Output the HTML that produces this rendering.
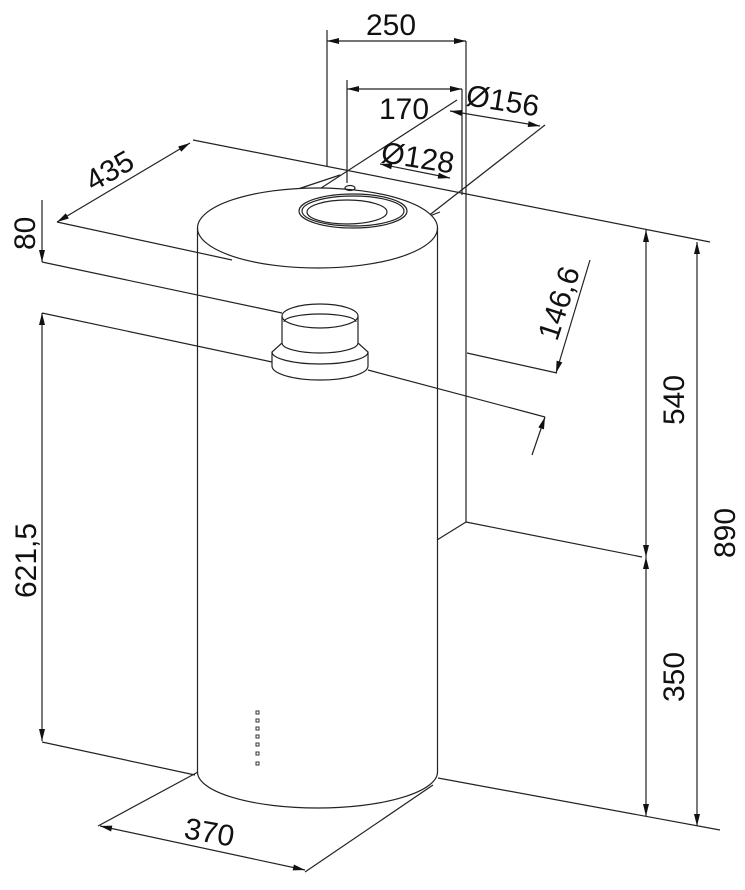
<!DOCTYPE html>
<html><head><meta charset="utf-8"><style>
html,body{margin:0;padding:0;background:#fff;width:745px;height:890px;overflow:hidden}
svg{display:block}
text{font-family:"Liberation Sans",Arial,sans-serif;font-size:30px;fill:#111}
</style></head><body>
<svg width="745" height="890" viewBox="0 0 745 890" xmlns="http://www.w3.org/2000/svg">
<defs>
<marker id="a" viewBox="0 0 12 6" refX="12" refY="3" markerWidth="13" markerHeight="6" orient="auto-start-reverse" markerUnits="userSpaceOnUse">
<path d="M0,0 L12,3 L0,6 z" fill="#111"/></marker>
</defs>
<g stroke="#222" stroke-width="1.2" fill="none">
<line x1="193" y1="140" x2="710" y2="242"/>
<line x1="466" y1="41" x2="466" y2="522"/>
<line x1="462" y1="89" x2="462" y2="195"/>
<line x1="466" y1="522" x2="642" y2="557"/>
<line x1="466" y1="522" x2="437" y2="540"/>
<line x1="327" y1="30" x2="327" y2="166"/>
<line x1="347" y1="80" x2="347" y2="183"/>
<line x1="327" y1="41" x2="466" y2="41" marker-start="url(#a)" marker-end="url(#a)"/>
<line x1="347" y1="89" x2="462" y2="89" marker-start="url(#a)" marker-end="url(#a)"/>
<line x1="295" y1="190" x2="340" y2="175"/>
<line x1="298" y1="203" x2="457" y2="100"/>
<line x1="427" y1="217" x2="545" y2="125"/>
<line x1="427" y1="217" x2="440" y2="212"/>
<line x1="450" y1="111" x2="540" y2="126" marker-start="url(#a)" marker-end="url(#a)"/>
<line x1="380" y1="164" x2="450" y2="178" marker-start="url(#a)" marker-end="url(#a)"/>
<line x1="57" y1="222" x2="190" y2="143" marker-start="url(#a)" marker-end="url(#a)"/>
<line x1="57" y1="222" x2="232" y2="260"/>
<ellipse cx="317.5" cy="228" rx="120" ry="40" fill="#fff"/>
<line x1="197.5" y1="228" x2="197.5" y2="772"/>
<line x1="437.5" y1="228" x2="437.5" y2="772"/>
<path d="M197.5,772 A120,36 0 0 0 437.5,772"/>
<ellipse cx="353" cy="211" rx="54" ry="17" fill="#fff"/>
<ellipse cx="353" cy="211" rx="51" ry="15"/>
<ellipse cx="347" cy="212" rx="40" ry="12"/>
<ellipse cx="350" cy="188" rx="5" ry="2.5"/>
<line x1="42" y1="200" x2="42" y2="262" marker-end="url(#a)"/>
<line x1="42" y1="262" x2="282" y2="313"/>
<line x1="42" y1="313" x2="272" y2="362"/>
<line x1="42" y1="313" x2="42" y2="741" marker-start="url(#a)" marker-end="url(#a)"/>
<line x1="42" y1="742" x2="195" y2="775"/>
<path d="M282,316 L282,343 L272,352 L272,366 A48,14 0 0 0 368,366 L368,352 L358,343 L358,316" fill="#fff"/>
<ellipse cx="320" cy="316" rx="38" ry="12" fill="#fff"/>
<path d="M284,322 A36,8 0 0 1 356,322"/>
<path d="M282,343 A38,10 0 0 0 358,343"/>
<path d="M272,352 A48,12 0 0 0 368,352"/>
<line x1="467" y1="353" x2="557" y2="373"/>
<line x1="368" y1="370" x2="545" y2="417"/>
<line x1="590" y1="260" x2="556" y2="373" marker-end="url(#a)"/>
<line x1="532" y1="455" x2="545" y2="417" marker-end="url(#a)"/>
<line x1="646" y1="230" x2="646" y2="557" marker-start="url(#a)" marker-end="url(#a)"/>
<line x1="646" y1="557" x2="646" y2="816" marker-start="url(#a)" marker-end="url(#a)"/>
<line x1="697" y1="242" x2="697" y2="826" marker-start="url(#a)" marker-end="url(#a)"/>
<line x1="438" y1="778" x2="720" y2="830"/>
<line x1="198" y1="772" x2="98" y2="826"/>
<line x1="433" y1="785" x2="305" y2="872"/>
<line x1="100" y1="826" x2="305" y2="870" marker-start="url(#a)" marker-end="url(#a)"/>
</g>
<g fill="#fff" stroke="#333" stroke-width="1">
<rect x="256" y="711" width="3" height="3"/><rect x="256" y="719" width="3" height="3"/><rect x="256" y="727" width="3" height="3"/><rect x="256" y="735" width="3" height="3"/><rect x="256" y="743" width="3" height="3"/><rect x="256" y="752" width="3" height="3"/><rect x="256" y="762" width="3" height="3"/>
</g>
<text x="366" y="35">250</text>
<text x="379" y="119">170</text>
<text x="465" y="105" transform="rotate(9 465 105)">Ø156</text>
<text x="380" y="162" transform="rotate(9 380 162)">Ø128</text>
<text x="0" y="0" transform="translate(93 192) rotate(-30)">435</text>
<text x="0" y="0" transform="translate(35 250) rotate(-90)">80</text>
<text x="0" y="0" transform="translate(36 598) rotate(-90)">621,5</text>
<text x="0" y="0" transform="translate(557 342) rotate(-72)">146,6</text>
<text x="0" y="0" transform="translate(684 425) rotate(-90)">540</text>
<text x="0" y="0" transform="translate(684 702) rotate(-90)">350</text>
<text x="0" y="0" transform="translate(735 558) rotate(-90)">890</text>
<text x="0" y="0" transform="translate(183 838) rotate(10)">370</text>
</svg>
</body></html>
